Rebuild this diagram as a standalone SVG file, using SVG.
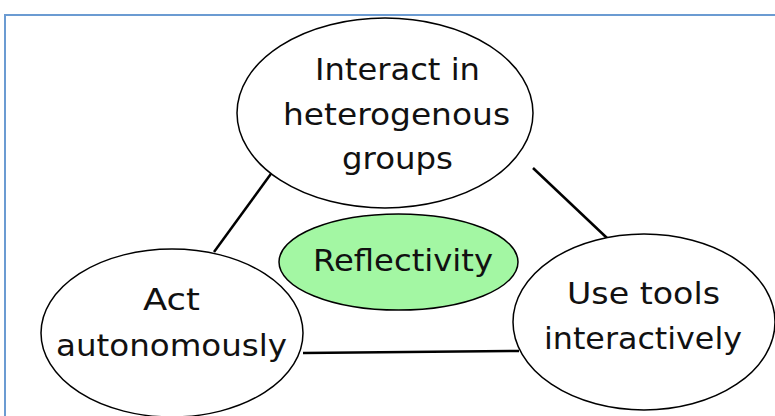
<svg xmlns="http://www.w3.org/2000/svg" width="775" height="416" viewBox="0 0 775 416">
<style>
.node { fill: #ffffff; stroke: #000000; stroke-width: 1.5; }
.refl { fill: #a3f7a3; stroke: #000000; stroke-width: 1.5; }
.conn { stroke: #000000; stroke-width: 2.5; fill: none; }
text { font-family: "DejaVu Sans", "Noto Sans CJK JP", sans-serif; font-size: 31px; fill: #111111; text-anchor: middle; }
</style>
<rect x="0" y="0" width="775" height="416" fill="#ffffff"/>
<rect x="5" y="15" width="800" height="430" fill="none" stroke="#6b9bd2" stroke-width="2"/>
<g id="connectors">
  <line class="conn" x1="273" y1="171" x2="214" y2="252"/>
  <line class="conn" x1="533" y1="168" x2="607" y2="238"/>
  <line class="conn" x1="303" y1="353" x2="519" y2="351"/>
</g>
<g id="interact">
  <ellipse class="node" cx="385" cy="113" rx="148" ry="95"/>
  <text x="397.5" y="80" textLength="165" lengthAdjust="spacingAndGlyphs">Interact in</text>
  <text x="396.5" y="125" textLength="227" lengthAdjust="spacingAndGlyphs">heterogenous</text>
  <text x="397.5" y="169" textLength="111" lengthAdjust="spacingAndGlyphs">groups</text>
</g>
<g id="act">
  <ellipse class="node" cx="172" cy="333" rx="131" ry="84"/>
  <text x="171.5" y="310" textLength="57" lengthAdjust="spacingAndGlyphs">Act</text>
  <text x="171.5" y="356" textLength="231" lengthAdjust="spacingAndGlyphs">autonomously</text>
</g>
<g id="usetools">
  <ellipse class="node" cx="644" cy="322" rx="131" ry="88"/>
  <text x="643.5" y="304" textLength="153" lengthAdjust="spacingAndGlyphs">Use tools</text>
  <text x="643" y="349" textLength="198" lengthAdjust="spacingAndGlyphs">interactively</text>
</g>
<g id="reflectivity">
  <ellipse class="refl" cx="398.5" cy="262" rx="119.5" ry="48"/>
  <text x="403" y="271" textLength="180" lengthAdjust="spacingAndGlyphs">Reflectivity</text>
</g>
</svg>
